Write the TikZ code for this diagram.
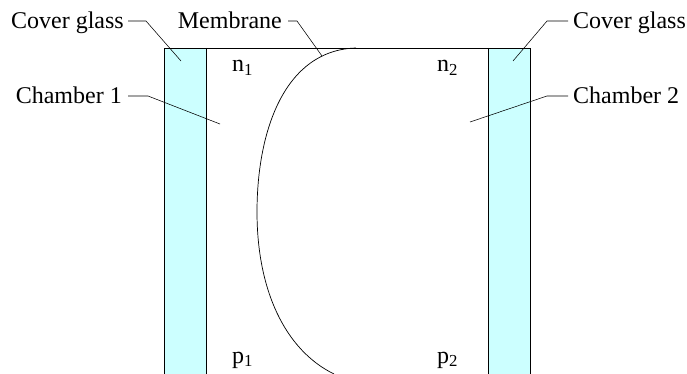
\documentclass[tikz,border=0pt]{standalone}
\usepackage{fontspec}
\setmainfont{Liberation Serif}
\usetikzlibrary{positioning, calc}
\definecolor{glasscyan}{HTML}{CCFFFF}

\begin{document}
\begin{tikzpicture}[
  x=1pt, y=-1pt,
  label/.style={font=\fontsize{24}{26}\selectfont, inner sep=0pt},
  lead/.style={draw=black, line width=0.55pt},
  wall/.style={draw=black, line width=0.7pt}
]
\useasboundingbox (0,0) rectangle (687,374);

%% Cover glasses
\fill[glasscyan] (164.5,48) rectangle (206.5,374);
\fill[glasscyan] (488.5,48) rectangle (530.5,374);
\coordinate (tl) at (164.5,48);
\coordinate (bl) at (164.5,374);
\coordinate (il) at (206.5,48);
\coordinate (jl) at (206.5,374);
\coordinate (ir) at (488.5,48);
\coordinate (jr) at (488.5,374);
\coordinate (tr) at (530.5,48);
\coordinate (br) at (530.5,374);
\draw[wall] (bl) -- (tl) -- (tr) -- (br);
\draw[wall] (il) -- (jl);
\draw[wall] (ir) -- (jr);

%% Membrane
\coordinate (mtop) at (356,48);
\coordinate (mbot) at (334,374);
\draw[wall] (mtop) .. controls (285,50) and (257,130) .. (257,212)
  .. controls (257,290) and (285,350) .. (mbot);

%% Labels
\node[label, anchor=base east] (cg1) at (124,29) {Cover glass};
\node[label, anchor=base east] (mem) at (282,29) {Membrane};
\node[label, anchor=base east] (ch1) at (122,104) {Chamber 1};
\node[label, anchor=base west] (cg2) at (573,29) {Cover glass};
\node[label, anchor=base west] (ch2) at (573,104) {Chamber 2};

\node[label, anchor=base west] (n1) at (232,72) {n\textsubscript{1}};
\node[label, anchor=base west] (n2) at (437,72) {n\textsubscript{2}};
\node[label, anchor=base west] (p1) at (232,363) {p\textsubscript{1}};
\node[label, anchor=base west] (p2) at (437,363) {p\textsubscript{2}};

%% Leaders
\coordinate (cg1end) at (181,61);
\coordinate (memend) at (322,56);
\coordinate (ch1end) at (220,124);
\coordinate (cg2end) at (513,61);
\coordinate (ch2end) at (470,122);

\draw[lead] (cg1.base east) ++(4,-8) -- ++(18,0) -- (cg1end);
\draw[lead] (mem.base east) ++(6,-8) -- ++(9,0) -- (memend);
\draw[lead] (ch1.base east) ++(6,-8) -- ++(20,0) -- (ch1end);
\draw[lead] (cg2.base west) ++(-5,-8) -- ++(-21,0) -- (cg2end);
\draw[lead] (ch2.base west) ++(-5,-8) -- ++(-21,0) -- (ch2end);

\end{tikzpicture}
\end{document}
